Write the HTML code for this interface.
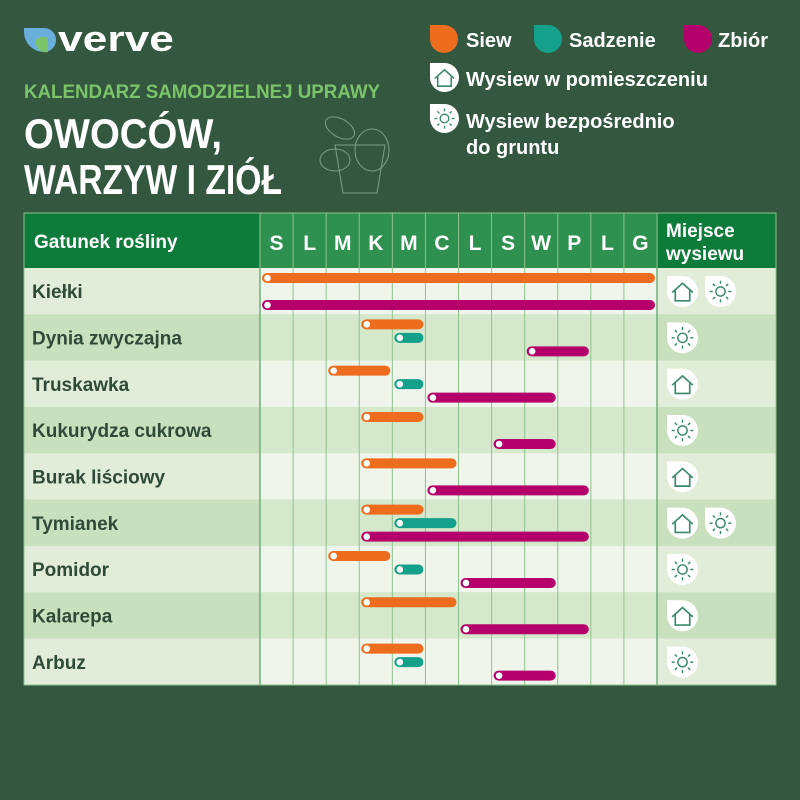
<!DOCTYPE html>
<html><head><meta charset="utf-8">
<style>
html,body{margin:0;padding:0;background:#33583f;}
svg{display:block;font-family:"Liberation Sans",sans-serif;}
</style></head>
<body>
<svg id="chart" width="800" height="800" viewBox="0 0 800 800">
<rect width="800" height="800" fill="#33583f"/>
<g>
<path d="M24 28 h20 a12 12 0 0 1 0 24 a20 20 0 0 1 -20 -20 z" fill="#6aaedb"/>
<path d="M36 40 a10 10 0 0 0 12 12 l0 -14 a10 10 0 0 0 -12 2z" fill="#7cc46a"/>
<text x="58" y="51" fill="#fff" font-size="36" font-weight="bold" textLength="116" lengthAdjust="spacingAndGlyphs">verve</text>
</g>
<text x="24" y="98" fill="#7cc46a" font-size="19" font-weight="bold" textLength="356" lengthAdjust="spacingAndGlyphs">KALENDARZ SAMODZIELNEJ UPRAWY</text>
<text x="24" y="148" fill="#fff" font-size="42" font-weight="bold" textLength="198" lengthAdjust="spacingAndGlyphs">OWOCÓW,</text>
<text x="24" y="194" fill="#fff" font-size="42" font-weight="bold" textLength="258" lengthAdjust="spacingAndGlyphs">WARZYW I ZIÓŁ</text>
<g fill="none" stroke="#7f9e86" stroke-width="1">
<ellipse cx="340" cy="128" rx="16" ry="9" transform="rotate(30 340 128)"/>
<ellipse cx="372" cy="150" rx="17" ry="21"/>
<ellipse cx="335" cy="160" rx="15" ry="11"/>
<path d="M335 145 l50 0 l-8 48 l-34 0z"/>
</g>
<g>
<path d="M430 25 h14 a14 14 0 0 1 0 28 a14 14 0 0 1 -14 -14z" fill="#ee6c1e"/>
<text x="466" y="47" fill="#fff" font-size="20" font-weight="bold">Siew</text>
<path d="M534 25 h14 a14 14 0 0 1 0 28 a14 14 0 0 1 -14 -14z" fill="#14a08a"/>
<text x="569" y="47" fill="#fff" font-size="20" font-weight="bold">Sadzenie</text>
<path d="M684 25 h14 a14 14 0 0 1 0 28 a14 14 0 0 1 -14 -14z" fill="#b5006c"/>
<text x="718" y="47" fill="#fff" font-size="20" font-weight="bold">Zbiór</text>
<g id="legHome"></g>
<text x="466" y="86" fill="#fff" font-size="20" font-weight="bold">Wysiew w pomieszczeniu</text>
<g id="legSun"></g>
<text x="466" y="128" fill="#fff" font-size="20" font-weight="bold">Wysiew bezpośrednio</text>
<text x="466" y="154" fill="#fff" font-size="20" font-weight="bold">do gruntu</text>
</g>
<g id="table"></g>
</svg>
<script>
const months = ["S","L","M","K","M","C","L","S","W","P","L","G"];
const plants = ["Kiełki","Dynia zwyczajna","Truskawka","Kukurydza cukrowa","Burak liściowy","Tymianek","Pomidor","Kalarepa","Arbuz"];
// [start month index, end month index (exclusive)], null = none
const siew =     [[0,12],[3,5],[2,4],[3,5],[3,6],[3,5],[2,4],[3,6],[3,5]];
const sadzenie = [null,[4,5],[4,5],null,null,[4,6],[4,5],null,[4,5]];
const zbior =    [[0,12],[8,10],[5,9],[7,9],[5,10],[3,10],[6,9],[6,10],[7,9]];
const places = [["home","sun"],["sun"],["home"],["sun"],["home"],["home","sun"],["sun"],["home"],["sun"]];

const NS="http://www.w3.org/2000/svg";
const T=document.getElementById("table");
const X0=24, LBL=260, MX1=657, X1=776, HY=213, HH=55, RH=46.33;
const colW=(MX1-LBL)/12;
const xOf=m=>LBL+m*colW;
const yRow=i=>HY+HH+i*RH;
function mk(tag,attrs,parent){const e=document.createElementNS(NS,tag);for(const k in attrs)e.setAttribute(k,attrs[k]);(parent||T).appendChild(e);return e;}

function icon(kind,x,y,size,parent){
  const s=size/30;
  const g=mk("g",{transform:`translate(${x},${y}) scale(${s})`},parent);
  
  
  mk("path",{d:"M0 0 h15 a15 15 0 0 1 0 30 a15 15 0 0 1 -15 -15z",fill:"#fff"},g);
  if(kind==="home"){
    mk("path",{d:"M5 16 L15 7 L25 16 M8 14 V24 H22 V14",fill:"none",stroke:"#3a8a6a","stroke-width":"1.6"},g);
  } else {
    mk("circle",{cx:15,cy:15,r:4.5,fill:"none",stroke:"#3a8a6a","stroke-width":"1.4"},g);
    for(let a=0;a<8;a++){const r=a*Math.PI/4;mk("line",{x1:15+7.5*Math.cos(r),y1:15+7.5*Math.sin(r),x2:15+10.5*Math.cos(r),y2:15+10.5*Math.sin(r),stroke:"#3a8a6a","stroke-width":"1.4"},g);}
  }
  return g;
}
icon("home",430,63,29,document.getElementById("legHome"));
icon("sun",430,104,29,document.getElementById("legSun"));

let h=mk("rect",{x:X0,y:HY,width:X1-X0,height:HH,fill:"#0e7b3a"});


let ht=mk("text",{x:34,y:HY+35,fill:"#fff","font-size":"19","font-weight":"bold"});
ht.textContent="Gatunek rośliny";


months.forEach((m,i)=>{
  const r=mk("rect",{x:xOf(i),y:HY,width:colW,height:HH,fill:"#2e914f"});
  
  
  const t=mk("text",{x:xOf(i)+colW/2,y:HY+37,fill:"#fff","font-size":"21","font-weight":"bold","text-anchor":"middle"});
  t.textContent=m;
  
  
});
let pt1=mk("text",{x:666,y:HY+24,fill:"#fff","font-size":"19","font-weight":"bold"});pt1.textContent="Miejsce";


let pt2=mk("text",{x:666,y:HY+47,fill:"#fff","font-size":"19","font-weight":"bold"});pt2.textContent="wysiewu";



plants.forEach((p,i)=>{
  const y=yRow(i), light=i%2===0;
  const row=mk("g",{});
  
  
  mk("rect",{x:X0,y:y,width:X1-X0,height:RH+0.5,fill:light?"#e1ecd9":"#c9e0bf"},row);
  mk("rect",{x:LBL,y:y,width:MX1-LBL,height:RH+0.5,fill:light?"#eff5eb":"#d5e8cc"},row);
  const t=mk("text",{x:32,y:y+RH/2+7,fill:"#2f4a37","font-size":"19","font-weight":"bold"},row);
  t.textContent=p;
  
  
});
for(let i=0;i<=12;i++){
  const l=mk("line",{x1:xOf(i),y1:HY,x2:xOf(i),y2:yRow(plants.length),stroke:i===0||i===12?"#6fb07a":"#8fc28f","stroke-width":i===0||i===12?1.5:1});
  
  
}
mk("rect",{x:X0,y:HY,width:X1-X0,height:yRow(plants.length)-HY,fill:"none",stroke:"#8fc28f","stroke-width":"1"});

function bar(span,y,color,name){
  if(!span)return;
  const x1=xOf(span[0])+2, x2=xOf(span[1])-2;
  const g=mk("g",{});
  
  
  mk("rect",{x:x1,y:y-5,width:x2-x1,height:10,rx:5,fill:color},g);
  mk("circle",{cx:x1+5.5,cy:y,r:3.3,fill:"#fff"},g);
}
plants.forEach((p,i)=>{
  const y=yRow(i);
  bar(siew[i],y+10,"#ee6c1e","siew-bar");
  if(sadzenie[i]) bar(sadzenie[i],y+23.5,"#14a08a","sadzenie-bar");
  bar(zbior[i],y+37,"#b5006c","zbior-bar");
  places[i].forEach((k,j)=>icon(k,667+j*38,y+8,31));
});
</script>
</body></html>
